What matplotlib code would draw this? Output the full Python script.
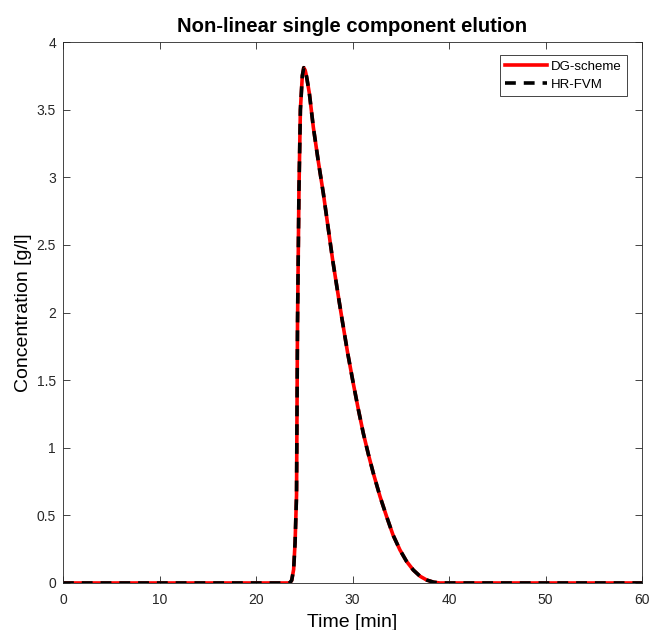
import matplotlib
matplotlib.use("Agg")
import matplotlib.pyplot as plt

plt.rcParams['font.family'] = ['Liberation Sans', 'DejaVu Sans']

time_min = [0, 5, 10, 15, 20, 23.0, 23.5, 23.7, 23.9, 24.05, 24.2, 24.3, 24.45, 24.6, 24.8, 24.95, 25.1,
            25.25, 25.53, 25.94, 26.45, 26.98, 27.94, 28.6, 28.94, 29.5, 30.08, 30.6, 31.12, 31.65, 32.16,
            32.85, 33.54, 34.2, 34.92, 35.6, 36.3, 37.0, 37.69, 38.4, 39.07, 40, 45, 50, 55, 60]
dg_scheme = [0, 0, 0, 0, 0, 0, 0, 0.02, 0.1, 0.3, 0.65, 1.9, 2.9, 3.5, 3.75, 3.81, 3.79,
             3.74, 3.62, 3.37, 3.12, 2.88, 2.39, 2.09, 1.94, 1.70, 1.476, 1.285, 1.107, 0.95, 0.811,
             0.64, 0.49, 0.355, 0.244, 0.16, 0.096, 0.05, 0.022, 0.006, 0.0, 0, 0, 0, 0, 0]
hr_fvm = list(dg_scheme)

x_ticks = [0, 10, 20, 30, 40, 50, 60]
y_ticks = [0, 0.5, 1, 1.5, 2, 2.5, 3, 3.5, 4]
y_tick_labels = ['0', '0.5', '1', '1.5', '2', '2.5', '3', '3.5', '4']

fig = plt.figure(figsize=(6.51, 6.30), dpi=100)
ax = fig.add_axes([63/651, 47/630, 579/651, 541/630])

ax.plot(time_min, dg_scheme, color='#ff0000', lw=2.6, label='DG-scheme')
ax.plot(time_min, hr_fvm, color='black', lw=2.6, ls=(0, (3, 2.2)), label='HR-FVM')

ax.set_xlim(0, 60)
ax.set_ylim(0, 4)
ax.set_xticks(x_ticks)
ax.set_yticks(y_ticks)
ax.set_yticklabels(y_tick_labels)
ax.tick_params(direction='in', top=True, right=True, labelsize=10, length=5, width=0.6,
               colors='#262626')
ax.tick_params(axis='x', pad=7)
ax.tick_params(axis='y', pad=5)
for s in ax.spines.values():
    s.set_linewidth(0.6)
    s.set_color('#262626')

ax.set_title('Non-linear single component elution', fontsize=14.6, fontweight='bold', pad=7.2)
ax.set_xlabel('Time [min]', fontsize=14, labelpad=5)
ax.set_ylabel('Concentration [g/l]', fontsize=14, labelpad=3.5)

leg = ax.legend(loc='upper right', bbox_to_anchor=(627/651, 1 - 55/630),
                bbox_transform=fig.transFigure, borderaxespad=0,
                fontsize=9.5, fancybox=False, edgecolor='#262626',
                framealpha=1, handlelength=3.2, handletextpad=0.3, borderpad=0.4,
                labelspacing=0.45)
leg.get_frame().set_linewidth(0.6)

fig.savefig('out.png', dpi=100)
